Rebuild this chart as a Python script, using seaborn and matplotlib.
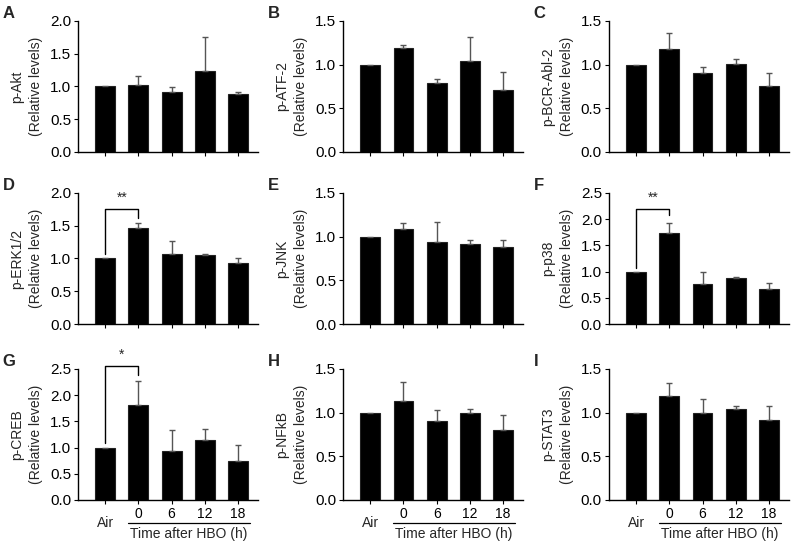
import numpy as np
import pandas as pd
import matplotlib
matplotlib.use('Agg')
import matplotlib.pyplot as plt
import seaborn as sns

groups = ['Air', '0', '6', '12', '18']

akt = [1.00, 1.02, 0.91, 1.24, 0.89]
akt_err = [np.nan, 0.14, 0.08, 0.51, 0.03]
atf2 = [1.00, 1.19, 0.79, 1.04, 0.71]
atf2_err = [np.nan, 0.03, 0.05, 0.28, 0.20]
bcr_abl2 = [1.00, 1.18, 0.90, 1.01, 0.76]
bcr_abl2_err = [np.nan, 0.18, 0.07, 0.05, 0.14]
erk = [1.00, 1.46, 1.07, 1.05, 0.93]
erk_err = [np.nan, 0.08, 0.20, 0.02, 0.08]
jnk = [1.00, 1.09, 0.94, 0.92, 0.88]
jnk_err = [np.nan, 0.06, 0.23, 0.04, 0.08]
p38 = [1.00, 1.74, 0.77, 0.88, 0.67]
p38_err = [np.nan, 0.19, 0.22, 0.01, 0.11]
creb = [1.00, 1.81, 0.94, 1.15, 0.75]
creb_err = [np.nan, 0.46, 0.40, 0.21, 0.29]
nfkb = [1.00, 1.13, 0.90, 1.00, 0.80]
nfkb_err = [np.nan, 0.22, 0.13, 0.04, 0.17]
stat3 = [1.00, 1.19, 0.99, 1.04, 0.92]
stat3_err = [np.nan, 0.15, 0.16, 0.03, 0.15]

panel_letters = ['A', 'B', 'C', 'D', 'E', 'F', 'G', 'H', 'I']
proteins = ['p-Akt', 'p-ATF-2', 'p-BCR-Abl-2', 'p-ERK1/2', 'p-JNK', 'p-p38',
            'p-CREB', 'p-NFkB', 'p-STAT3']
means = [akt, atf2, bcr_abl2, erk, jnk, p38, creb, nfkb, stat3]
errs = [akt_err, atf2_err, bcr_abl2_err, erk_err, jnk_err, p38_err,
        creb_err, nfkb_err, stat3_err]
ymax = [2.0, 1.5, 1.5, 2.0, 1.5, 2.5, 2.5, 1.5, 1.5]

# significance: panel index -> (label, left leg bottom, right leg bottom, bracket top, star y)
signif = {3: ('**', 1.07, 1.62, 1.76, 1.92),
          5: ('**', 1.06, 2.07, 2.20, 2.40),
          6: ('*', 1.09, 2.38, 2.55, 2.76)}

sns.set_theme(style='ticks')
plt.rcParams['font.family'] = ['Liberation Sans', 'DejaVu Sans']

fig = plt.figure(figsize=(7.96, 5.44), dpi=100)
lefts = [0.098, 0.431, 0.765]
bottoms = [0.7206, 0.4044, 0.0809]
w, h = 0.226, 0.241

for i in range(9):
    r, c = divmod(i, 3)
    ax = fig.add_axes([lefts[c], bottoms[r], w, h])
    df = pd.DataFrame({'group': groups, 'value': means[i]})
    sns.barplot(data=df, x='group', y='value', color='black', width=0.6,
                edgecolor='#222222', linewidth=0.8, errorbar=None, ax=ax)
    e = np.array(errs[i], dtype=float)
    ax.errorbar(np.arange(5), means[i], yerr=[np.zeros(5), e],
                fmt='none', ecolor='#555555', elinewidth=1.0, capsize=2.5,
                capthick=1.0)
    ax.set_xlim(-0.82, 4.6)
    ax.set_ylim(0, ymax[i])
    ticks = np.arange(0, ymax[i] + 0.01, 0.5)
    ax.set_yticks(ticks)
    ax.set_yticklabels([f'{v:.1f}' for v in ticks])
    ax.tick_params(axis='y', labelsize=11, length=3, width=0.8, pad=2, colors='black')
    ax.tick_params(axis='x', length=3, width=0.8, colors='black')
    for s in ['top', 'right']:
        ax.spines[s].set_visible(False)
    for s in ['left', 'bottom']:
        ax.spines[s].set_color('black')
        ax.spines[s].set_linewidth(1.0)
    ax.set_xlabel('')
    ax.set_ylabel(proteins[i] + '\n(Relative levels)', fontsize=10,
                  linespacing=1.45, labelpad=5)
    ax.text(-0.42, 1.06, panel_letters[i], transform=ax.transAxes,
            fontsize=12, fontweight='bold', ha='left', va='center')

    if r == 2:
        ax.set_xticks(range(5))
        ax.set_xticklabels(['', '0', '6', '12', '18'], fontsize=10)
        ax.tick_params(axis='x', pad=2)
        xt = ax.get_xaxis_transform()
        ax.text(0, -0.175, 'Air', transform=xt, ha='center', va='center',
                fontsize=10)
        ax.plot([0.68, 4.35], [-0.175, -0.175], color='black', lw=0.9,
                transform=xt, clip_on=False)
        ax.text(2.52, -0.26, 'Time after HBO (h)', transform=xt,
                ha='center', va='center', fontsize=10)
    else:
        ax.set_xticklabels([])

    if i in signif:
        lab, y0, y1, ytop, ys = signif[i]
        ax.plot([0, 0, 1, 1], [y0, ytop, ytop, y1], color='black', lw=1.0,
                clip_on=False)
        ax.text(0.5, ys, lab, ha='center', va='center', fontsize=10)

fig.savefig('out.png', dpi=100)
